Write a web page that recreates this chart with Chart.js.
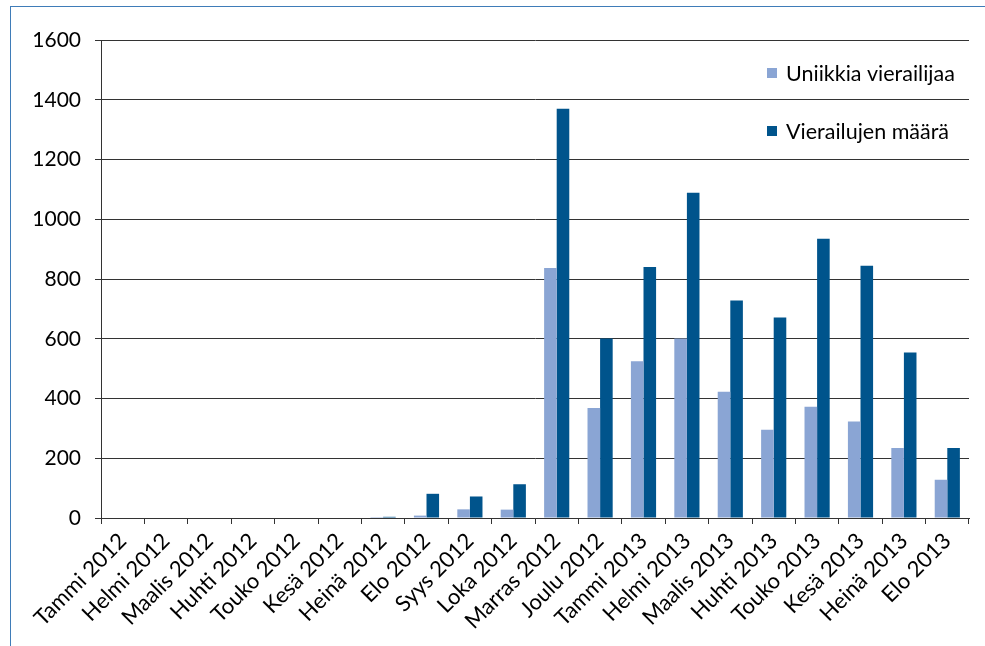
<!DOCTYPE html>
<html>
<head>
<meta charset="utf-8">
<script src="https://cdn.jsdelivr.net/npm/chart.js@4.4.1/dist/chart.umd.min.js"></script>
<style>
  html, body { margin: 0; padding: 0; background: #ffffff; }
  #wrap { position: relative; width: 985px; height: 646px; overflow: hidden; }
  #frame { position: absolute; left: 10px; top: 6px; right: -4px; bottom: -4px;
           border-left: 1.5px solid #3f7cb8; border-top: 1.5px solid #3f7cb8; pointer-events: none; }
  canvas { position: absolute; left: 0; top: 0; }
</style>
</head>
<body>
<div id="wrap">
  <canvas id="chart" width="985" height="646"></canvas>
  <div id="frame"></div>
</div>
<script>
// Monthly site statistics, Jan 2012 – Aug 2013
const months = [
  'Tammi 2012', 'Helmi 2012', 'Maalis 2012', 'Huhti 2012', 'Touko 2012',
  'Kesä 2012', 'Heinä 2012', 'Elo 2012', 'Syys 2012', 'Loka 2012',
  'Marras 2012', 'Joulu 2012', 'Tammi 2013', 'Helmi 2013', 'Maalis 2013',
  'Huhti 2013', 'Touko 2013', 'Kesä 2013', 'Heinä 2013', 'Elo 2013'
];
const uniqueVisitors = [0, 0, 0, 0, 0, 0, 3, 8, 29, 28, 837, 368, 525, 601, 423, 295, 372, 323, 234, 128];
const visitCount     = [0, 0, 0, 0, 0, 0, 4, 81, 72, 113, 1370, 601, 840, 1089, 728, 671, 935, 844, 554, 234];
const seriesNames = ['Uniikkia vierailijaa', 'Vierailujen määrä'];
const yTicks = [0, 200, 400, 600, 800, 1000, 1200, 1400, 1600];

const FONT = 'Lato, "Open Sans", sans-serif';
const colors = ['#8aa5d4', '#00548c'];

// Legend drawn inside the plot area, top right, stacked vertically
const insideLegend = {
  id: 'insideLegend',
  afterDatasetsDraw(chart) {
    const ctx = chart.ctx;
    const x = 767, rows = [73, 131];
    ctx.save();
    ctx.font = '21.5px ' + FONT;
    ctx.textBaseline = 'middle';
    ctx.textAlign = 'left';
    chart.data.datasets.forEach((ds, i) => {
      ctx.fillStyle = ds.backgroundColor;
      ctx.fillRect(x, rows[i] - 5, 10, 10);
      ctx.fillStyle = '#000';
      ctx.fillText(ds.label, x + 19, rows[i] + 1);
    });
    ctx.restore();
  }
};

new Chart(document.getElementById('chart'), {
  type: 'bar',
  data: {
    labels: months,
    datasets: [
      { label: seriesNames[0], data: uniqueVisitors, backgroundColor: colors[0] },
      { label: seriesNames[1], data: visitCount, backgroundColor: colors[1] }
    ]
  },
  options: {
    responsive: false,
    animation: false,
    layout: { padding: { left: 0, top: 40, right: 16, bottom: 0 } },
    datasets: { bar: { categoryPercentage: 0.58, barPercentage: 1.0 } },
    plugins: { legend: { display: false }, tooltip: { enabled: false } },
    scales: {
      x: {
        grid: { display: true, drawOnChartArea: false, drawTicks: true, tickLength: 6, color: '#333', offset: true },
        border: { display: true, color: '#333', width: 1 },
        ticks: { color: '#000', font: { family: FONT, size: 22 }, minRotation: 45, maxRotation: 45, autoSkip: false, padding: 4 },
        afterFit(axis) { axis.height = 128; }
      },
      y: {
        min: 0, max: 1600,
        afterBuildTicks(axis) { axis.ticks = yTicks.map(v => ({ value: v })); },
        grid: { color: '#333', lineWidth: 1, drawTicks: true, tickLength: 6 },
        border: { display: true, color: '#333', width: 1 },
        ticks: { color: '#000', font: { family: FONT, size: 21 }, padding: 14, callback: v => String(v) },
        afterFit(axis) { axis.width = 101; }
      }
    }
  },
  plugins: [insideLegend]
});
</script>
</body>
</html>
